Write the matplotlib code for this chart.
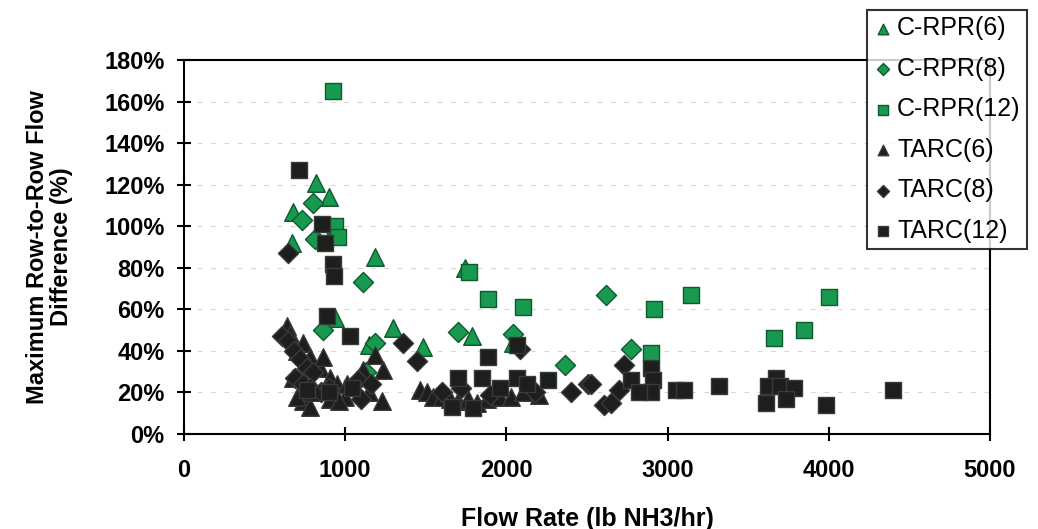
import matplotlib
matplotlib.use('Agg')
import matplotlib.pyplot as plt
from matplotlib.ticker import FuncFormatter

# Flow rate (lb NH3/hr) and max row-to-row flow difference (%) per series
crpr6_x = [820, 901, 677, 671, 1186, 938, 1298, 1484, 1745, 1789, 1150, 2040]
crpr6_y = [121, 114, 107, 92, 85, 56, 51, 42, 80, 47, 43, 44]

crpr8_x = [801, 733, 814, 1112, 863, 1186, 1702, 2043, 2366, 2615, 2770, 1130]
crpr8_y = [111, 103, 94, 73, 50, 44, 49, 48, 33, 67, 41, 30]

crpr12_x = [925, 938, 957, 1765, 1888, 2106, 2913, 3143, 2894, 4000, 3845, 3658]
crpr12_y = [165, 100, 95, 78, 65, 61, 60, 67, 39, 66, 50, 46]

tarc6_x = [640, 658, 700, 739, 783, 845, 863, 907, 720, 677, 739, 783, 907, 950,
           1012, 1093, 1112, 1186, 1236, 1230, 1150, 1466, 1509, 1547, 1600, 1650,
           1700, 1760, 1820, 1880, 1960, 2030, 2100, 2200, 700, 800, 1000, 960]
tarc6_y = [52, 48, 40, 44, 37, 32, 37, 27, 27, 27, 16, 13, 17, 24,
           24, 28, 31, 38, 31, 16, 20, 21, 20, 18, 18, 17,
           16, 17, 15, 17, 18, 18, 20, 19, 18, 20, 18, 16]

tarc8_x = [646, 609, 646, 680, 720, 760, 800, 690, 740, 780, 850, 900, 1100, 1080,
           1160, 1360, 1447, 2087, 2398, 2509, 2603, 2646, 2727, 2522, 2180, 1600,
           1720, 1900, 2700]
tarc8_y = [87, 47, 45, 40, 36, 32, 30, 27, 24, 22, 20, 22, 17, 26,
           24, 44, 35, 41, 20, 24, 14, 15, 33, 24, 20, 20,
           22, 19, 21]

tarc12_x = [714, 857, 876, 925, 932, 888, 1031, 1702, 1851, 1888, 2068, 2068, 2255,
            1665, 1795, 2894, 2907, 2894, 2770, 3050, 3099, 3317, 3671, 3621, 3700,
            3783, 3733, 3609, 3981, 4398, 760, 900, 1040, 1960, 2130, 2820]
tarc12_y = [127, 101, 92, 82, 76, 57, 47, 27, 27, 37, 43, 27, 26,
            13, 12.5, 32, 26, 20, 26, 21, 21, 23, 27, 23, 23,
            22, 17, 15, 14, 21, 21, 20, 22, 22, 24, 20]

x_ticks = [0, 1000, 2000, 3000, 4000, 5000]
y_ticks = [0, 20, 40, 60, 80, 100, 120, 140, 160, 180]

GREEN = '#17994f'
GREEN_EDGE = '#0d5a2c'
BLACK = '#1c1f1c'
BLACK_EDGE = '#3a3a3a'

plt.rcParams['font.family'] = ['Liberation Sans', 'DejaVu Sans']

fig = plt.figure(figsize=(10.38, 5.29), dpi=100)
ax = fig.add_axes([184 / 1038, 95 / 529, 806 / 1038, 374 / 529])

series = [
    (crpr6_x, crpr6_y, '^', GREEN, GREEN_EDGE, 160, 'C-RPR(6)'),
    (crpr8_x, crpr8_y, 'D', GREEN, GREEN_EDGE, 105, 'C-RPR(8)'),
    (crpr12_x, crpr12_y, 's', GREEN, GREEN_EDGE, 125, 'C-RPR(12)'),
    (tarc6_x, tarc6_y, '^', BLACK, BLACK_EDGE, 160, 'TARC(6)'),
    (tarc8_x, tarc8_y, 'D', BLACK, BLACK_EDGE, 105, 'TARC(8)'),
    (tarc12_x, tarc12_y, 's', BLACK, BLACK_EDGE, 125, 'TARC(12)'),
]
handles = []
for xs, ys, mk, fc, ec, size, label in series:
    h = ax.scatter(xs, ys, marker=mk, s=size, c=fc, edgecolors=ec,
                   linewidths=1.0, label=label, zorder=3)
    handles.append(h)

ax.set_xlim(0, 5000)
ax.set_ylim(0, 180)
ax.set_xticks(x_ticks)
ax.set_yticks(y_ticks)
ax.yaxis.set_major_formatter(FuncFormatter(lambda v, p: f'{int(v)}%'))

# faint dashed gridlines like the original
ax.grid(True, axis='y', color='#d4d4d4', linestyle=(0, (4, 8)), linewidth=0.8)
ax.set_axisbelow(True)

for s in ax.spines.values():
    s.set_color('black')
    s.set_linewidth(1.5)

ax.tick_params(axis='both', direction='inout', length=10, width=1.5, labelsize=17)
ax.tick_params(axis='x', pad=13)
ax.tick_params(axis='y', pad=9)
for lbl in ax.get_xticklabels() + ax.get_yticklabels():
    lbl.set_fontweight('bold')

ax.set_xlabel('Flow Rate (lb NH3/hr)', fontsize=18, fontweight='bold', labelpad=18)
ax.set_ylabel('Maximum Row-to-Row Flow\nDifference (%)', fontsize=17,
              fontweight='bold', labelpad=22, linespacing=1.1)

leg = fig.legend(handles=handles, loc='upper left',
                 bbox_to_anchor=(867 / 1038, 1 - 10 / 529),
                 frameon=True, fancybox=False, edgecolor='black',
                 fontsize=18, labelspacing=0.66, handletextpad=0.15,
                 handlelength=0.8, borderpad=0.25, borderaxespad=0,
                 markerscale=0.6)
leg.get_frame().set_linewidth(1.5)

plt.savefig('out.png', dpi=100)
plt.close()
